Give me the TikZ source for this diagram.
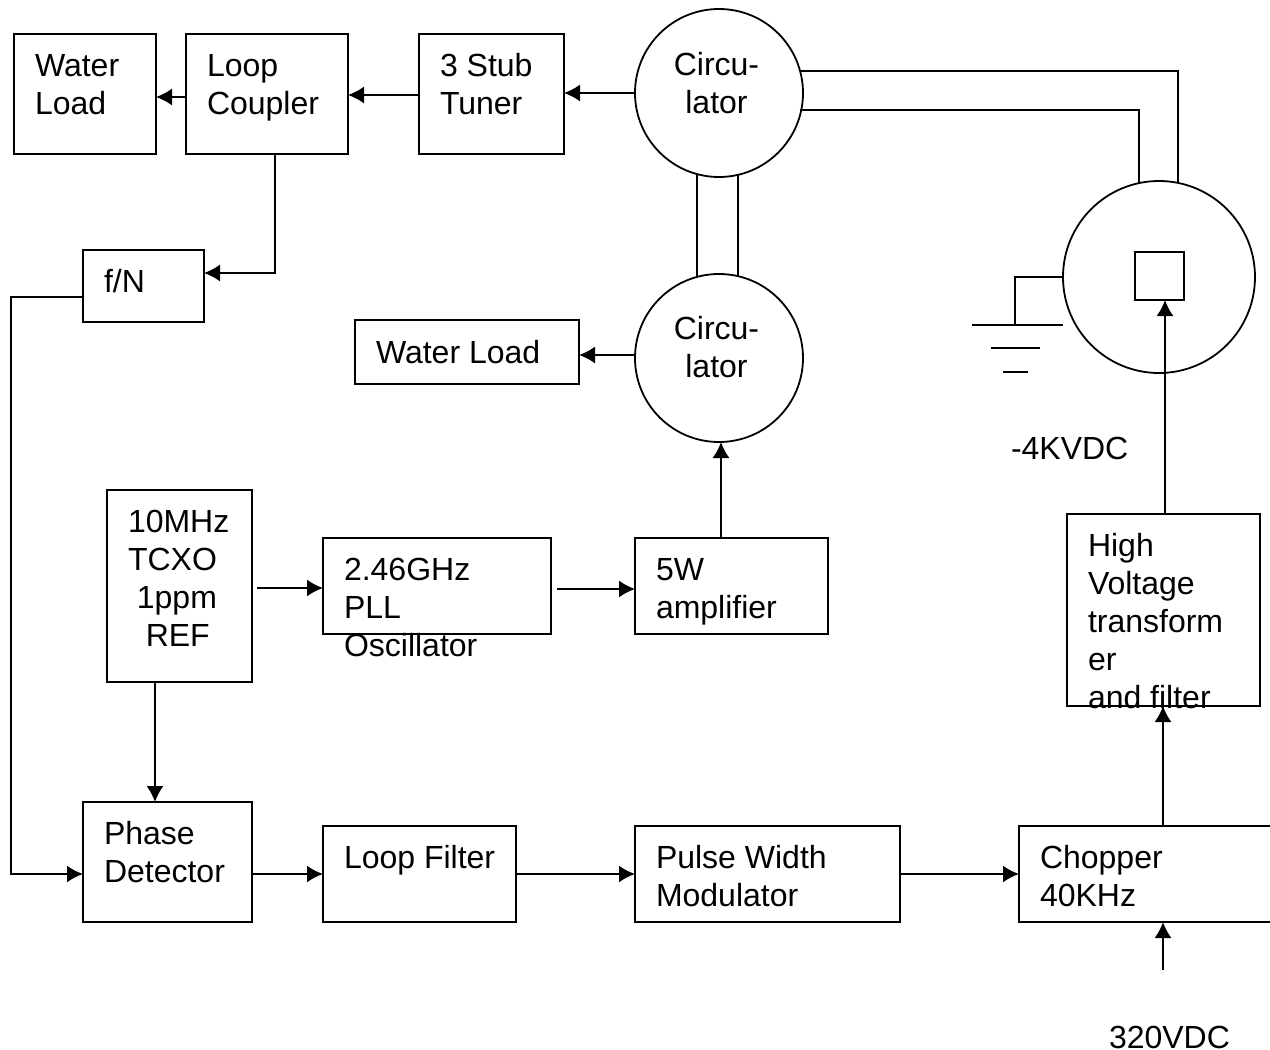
\documentclass[tikz,border=0pt]{standalone}
\usepackage{fontspec}
\setmainfont{Liberation Sans}
\usetikzlibrary{arrows.meta,calc}
\tikzset{
  blockbox/.style={draw,inner sep=0pt,outer sep=0pt},
  roundbox/.style={draw,circle,inner sep=0pt,outer sep=0pt,minimum size=168pt},
  blocktxt/.style={anchor=north west,inner sep=0pt,outer sep=0pt,align=left},
  roundtxt/.style={anchor=north,inner sep=0pt,outer sep=0pt,align=center},
  arr/.style={-{Latex[length=16pt,width=17pt]}}
}
\begin{document}
\begin{tikzpicture}[x=1pt,y=-1pt,line width=1.8pt,font=\fontsize{32}{38}\selectfont]
\clip (0,0) rectangle (1270,1050);

% top row
\node[blockbox,minimum width=142pt,minimum height=120pt] (wlA) at (85,94) {};
\node[blockbox,minimum width=162pt,minimum height=120pt] (lc) at (267,94) {};
\node[blockbox,minimum width=145pt,minimum height=120pt] (st) at (491.5,94) {};
\node[roundbox] (circA) at (719,93) {};
\node[blockbox,minimum width=121pt,minimum height=72pt] (fn) at (143.5,286) {};

% second circulator and tube
\node[roundbox] (circB) at (719,358) {};
\node[blockbox,minimum width=224pt,minimum height=64pt] (wlB) at (467,352) {};
\node[roundbox,minimum size=192pt] (tube) at (1159,277) {};
\node[blockbox,minimum width=49pt,minimum height=48pt] (sq) at (1159.5,276) {};
\coordinate (gnd) at (1015,325);

% middle row
\node[blockbox,minimum width=145pt,minimum height=192pt] (tcxo) at (179.5,586) {};
\node[blockbox,minimum width=228pt,minimum height=96pt] (pll) at (437,586) {};
\node[blockbox,minimum width=193pt,minimum height=96pt] (amp) at (731.5,586) {};
\node[blockbox,minimum width=193pt,minimum height=192pt] (hv) at (1163.5,610) {};

% bottom row
\node[blockbox,minimum width=169pt,minimum height=120pt] (pd) at (167.5,862) {};
\node[blockbox,minimum width=193pt,minimum height=96pt] (lf) at (419.5,874) {};
\node[blockbox,minimum width=265pt,minimum height=96pt] (pwm) at (767.5,874) {};
\node[blockbox,minimum width=271pt,minimum height=96pt] (chop) at (1154.5,874) {};
\coordinate (vin) at (1163,970);

% texts, y is first baseline minus 26.6
\node[blocktxt] (tWlA) at (35,49.4) {\strut Water\\Load};
\node[blocktxt] (tLc) at (207,49.4) {\strut Loop\\Coupler};
\node[blocktxt] (tSt) at (440,49.4) {\strut 3 Stub\\Tuner};
\node[roundtxt] (tCircA) at (716.5,48.4) {\strut Circu-\\lator};
\node[roundtxt] (tCircB) at (716.5,312.4) {\strut Circu-\\lator};
\node[blocktxt] (tFn) at (104,265.4) {\strut f/N};
\node[blocktxt] (tWlB) at (376,336.4) {\strut Water Load};
\node[blocktxt] (tTcxo) at (128,505.4) {\strut 10MHz\\TCXO\\\hspace{8.9pt}1ppm\\\hspace{17.8pt}REF};
\node[blocktxt] (tPll) at (344,553.4) {\strut 2.46GHz\\PLL\\Oscillator};
\node[blocktxt] (tAmp) at (656,553.4) {\strut 5W\\amplifier};
\node[blocktxt] (tKv) at (1011,432.4) {\strut -4KVDC};
\node[blocktxt] (tHv) at (1088,529.4) {\strut High\\Voltage\\transform\\er\\and filter};
\node[blocktxt] (tPd) at (104,817.4) {\strut Phase\\Detector};
\node[blocktxt] (tLf) at (344,841.4) {\strut Loop Filter};
\node[blocktxt] (tPwm) at (656,841.4) {\strut Pulse Width\\Modulator};
\node[blocktxt] (tChop) at (1040,841.4) {\strut Chopper\\40KHz};
\node[blocktxt,anchor=base west] (tVin) at (1109,1048) {320VDC};

% top row connectors
\draw[arr] ($(lc.west)+(0,3)$) -- ($(wlA.east)+(0,3)$);
\draw[arr] ($(st.west)+(0,1)$) -- ($(lc.east)+(0,1)$);
\draw[arr] (circA.west) -- ($(st.east)+(0,-1)$);
\draw[arr] ($(lc.south)+(8,0)$) |- ($(fn.east)+(0,-13)$);
\draw[arr] ($(fn.west)+(0,11)$) -- ++(-72,0) |- ($(pd.west)+(0,12)$);

% waveguides
\draw ($(circA.south)+(-22,-3)$) -- ($(circB.north)+(-22,3)$);
\draw ($(circA.south)+(19,-2)$) -- ($(circB.north)+(19,2)$);
\draw ($(circA.east)+(-3,-22)$) -| ($(tube.north)+(19,2)$);
\draw ($(circA.east)+(-3,17)$) -| ($(tube.north)+(-20,2)$);

% ground
\draw (tube.west) -| (gnd);
\draw ($(gnd)+(-43,0)$) -- ($(gnd)+(48,0)$);
\draw ($(gnd)+(-24,23)$) -- ($(gnd)+(25,23)$);
\draw ($(gnd)+(-12,47)$) -- ($(gnd)+(13,47)$);

% middle connectors
\draw[arr] ($(circB.west)+(0,-3)$) -- ($(wlB.east)+(0,3)$);
\draw[arr] ($(tcxo.east)+(5,2)$) -- ($(pll.west)+(0,2)$);
\draw[arr] ($(pll.east)+(6,3)$) -- ($(amp.west)+(0,3)$);
\draw[arr] ($(amp.north)+(-10.5,0)$) -- ($(circB.south)+(2,0)$);
\draw[arr] ($(tcxo.south)+(-24.5,0)$) -- ($(pd.north)+(-12.5,0)$);
\draw[arr] ($(hv.north)+(1.5,0)$) -- ($(sq.south)+(5.5,0)$);

% bottom connectors
\draw[arr] ($(pd.east)+(0,12)$) -- (lf.west);
\draw[arr] (lf.east) -- (pwm.west);
\draw[arr] (pwm.east) -- (chop.west);
\draw[arr] ($(chop.north)+(8.5,0)$) -- ($(hv.south)+(-.5,0)$);
\draw[arr] (vin) -- ($(chop.south)+(8.5,0)$);
\end{tikzpicture}
\end{document}
